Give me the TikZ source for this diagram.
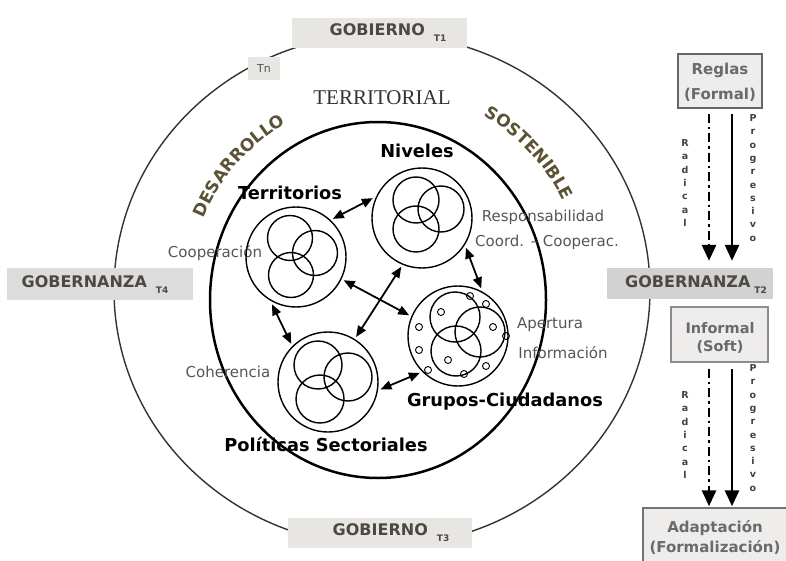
\documentclass[tikz,border=0pt]{standalone}
\usepackage{fontspec}
\setmainfont{DejaVu Sans}
\newfontfamily\serifT{Liberation Serif}
\usetikzlibrary{arrows.meta,decorations.text}
\definecolor{gobA}{HTML}{E8E6E3}
\definecolor{gobB}{HTML}{DCDCDC}
\definecolor{gobC}{HTML}{D2D2D2}
\definecolor{gtxt}{HTML}{4D4842}
\definecolor{lgray}{HTML}{555555}
\definecolor{rgray}{HTML}{6A6A6A}
\definecolor{olivebr}{HTML}{5B5236}
\definecolor{tgray}{HTML}{333333}
\newcommand{\arcfontA}{\fontsize{17}{20}\selectfont\bfseries\color{olivebr}}
\begin{document}
\begin{tikzpicture}[x=1pt,y=-1pt,
  gbox/.style={fill=#1, draw=none, inner sep=0pt},
  gtext/.style={font=\fontsize{16}{19}\selectfont\bfseries, text=gtxt, inner sep=0pt},
  lab/.style={font=\fontsize{15}{18}\selectfont, text=lgray, inner sep=0pt},
  blab/.style={font=\fontsize{17.8}{20}\selectfont\bfseries, text=black, inner sep=0pt},
  subc/.style={circle, draw, line width=1.4pt, minimum size=100pt, inner sep=0pt, outer sep=3pt},
  venn/.style={line width=1.4pt},
  dot/.style={line width=0.9pt},
  dbl/.style={line width=1.8pt, {Triangle[length=11pt,width=9pt]}-{Triangle[length=11pt,width=9pt]}},
  rbox/.style={draw=#1, line width=1.4pt, fill=gobA!70, inner sep=0pt},
  rtext/.style={font=\fontsize{15}{25}\selectfont\bfseries, text=rgray, align=center, inner sep=0pt},
  vtext/.style={font=\fontsize{9.5}{13.3}\selectfont\bfseries, text=black!75, align=center, inner sep=0pt},
  solarrow/.style={line width=2.8pt, -{Triangle[length=16pt,width=14pt]}},
  dasharrow/.style={line width=2.8pt, dash pattern=on 9pt off 4pt on 2.5pt off 4pt, -{Triangle[length=16pt,width=14pt]}}
]
\useasboundingbox (0,0) rectangle (786,561);
\clip (0,0) rectangle (786,561);

% outer ellipse
\draw[line width=1.4pt, black!80] (382,290) ellipse [x radius=268, y radius=256];

% gray label boxes on the ellipse
\node[gbox=gobA, minimum width=175pt, minimum height=30pt] (g1box) at (379.5,33) {};
\node[gtext] (g1) at (388,33) {GOBIERNO\hspace{9pt}\raisebox{-6pt}{\fontsize{9}{9}\selectfont T1}};
\node[gbox=gobA, minimum width=184pt, minimum height=30pt] (g3box) at (380,533) {};
\node[gtext] (g3) at (391,533) {GOBIERNO\hspace{9pt}\raisebox{-6pt}{\fontsize{9}{9}\selectfont T3}};
\node[gbox=gobB, minimum width=186pt, minimum height=32pt] (g4box) at (100,284) {};
\node[gtext] (g4) at (95,285) {GOBERNANZA\hspace{9pt}\raisebox{-6pt}{\fontsize{9}{9}\selectfont T4}};
\node[gbox=gobC, minimum width=166pt, minimum height=31pt] (g2box) at (690,283.5) {};
\node[gtext] (g2) at (696,285) {GOBERNANZA\hspace{4pt}\raisebox{-6pt}{\fontsize{9}{9}\selectfont T2}};
\node[gbox=gobA, minimum width=32pt, minimum height=23pt, font=\fontsize{11}{12}\selectfont, text=lgray] (tn) at (264,68.5) {Tn};

% titles
\node[font=\serifT\fontsize{21}{23}\selectfont, text=tgray, inner sep=0pt] (territ) at (382,98) {TERRITORIAL};
\path[decorate, decoration={text along path, text align=center, text={|\arcfontA|DESARROLLO}}]
  ([shift={(382,290)}]-174:192) arc [start angle=-174, end angle=-104, radius=192];
\path[decorate, decoration={text along path, text align=center, text={|\arcfontA|SOSTENIBLE}}]
  ([shift={(382,290)}]-79:202) arc [start angle=-79, end angle=-7, radius=202];

% inner ellipse
\draw[line width=2.5pt] (378,300) ellipse [x radius=168, y radius=178];

% gray labels
\node[lab] (coop) at (215,253) {Cooperación};
\node[lab] (coh) at (228,372) {Coherencia};
\node[lab] (resp) at (543,217) {Responsabilidad};
\node[lab] (coord) at (547,242) {Coord. – Cooperac.};
\node[lab] (aper) at (550,325) {Apertura};
\node[lab] (info) at (563,353) {Información};

% group circles
\node[subc] (terr) at (296,257) {};
\node[subc] (niv) at (422,218) {};
\node[subc] (pol) at (328,382) {};
\node[subc] (gru) at (458,336) {};

\foreach \dx/\dy in {-6/-19, 19/-4, -5/18}
  \draw[venn] ([shift={(\dx,\dy)}]terr.center) circle [radius=22.5];
\foreach \dx/\dy in {-6/-18, 19/-9, -6/11}
  \draw[venn] ([shift={(\dx,\dy)}]niv.center) circle [radius=23];
\foreach \dx/\dy in {-10/-17, 20/-5, -8/17}
  \draw[venn] ([shift={(\dx,\dy)}]pol.center) circle [radius=24];
\foreach \dx/\dy in {-3/-19, 22/-4, -2/15}
  \draw[venn] ([shift={(\dx,\dy)}]gru.center) circle [radius=25];
\foreach \px/\py in {470/296, 486/304, 441/312, 419/327, 493/327, 506/336, 419/350, 448/360, 486/366, 428/370, 464/374}
  \draw[dot] (\px,\py) circle [radius=3.5];

% bold labels
\node[blab] (lterr) at (290,193) {Territorios};
\node[blab] (lniv) at (417,151) {Niveles};
\node[blab] (lpol) at (326,445) {Políticas Sectoriales};
\node[blab] (lgru) at (505,402) {Grupos-Ciudadanos};

% double arrows
\draw[dbl] (terr.46) -- (niv.158);
\draw[dbl] (terr.-26) -- (gru.157);
\draw[dbl] (niv.-113) -- (pol.58);
\draw[dbl] (terr.243) -- (pol.134);
\draw[dbl] (niv.-34) -- (gru.64);
\draw[dbl] (pol.-8) -- (gru.224);

% right column
\node[rbox=black!60, minimum width=84pt, minimum height=54pt] (reglas) at (720,81) {};
\node[rtext] (reglast) at (720,82) {Reglas\\(Formal)};
\node[rbox=black!45, minimum width=97pt, minimum height=55pt] (informal) at (719.5,334.5) {};
\node[rtext, font=\fontsize{14.5}{18}\selectfont\bfseries] (informalt) at (720,338) {Informal\\(Soft)};
\node[rbox=black!55, minimum width=150pt, minimum height=62pt] (adapt) at (718,539) {};
\node[rtext, font=\fontsize{15}{20}\selectfont\bfseries] (adaptt) at (715,537) {Adaptación\\(Formalización)};

\coordinate (dl) at (709,0);
\coordinate (sl) at (732,0);
\draw[dasharrow, shorten <=5pt, shorten >=7pt] (dl |- reglas.south) -- (dl |- g2box.north);
\draw[solarrow, shorten <=5pt, shorten >=7pt] (sl |- reglas.south) -- (sl |- g2box.north);
\draw[dasharrow, shorten <=6pt, shorten >=1pt] (dl |- informal.south) -- (dl |- adapt.north);
\draw[solarrow, shorten <=6pt, shorten >=1pt] (sl |- informal.south) -- (sl |- adapt.north);

\node[vtext] (rad1) at (685,183) {R\\a\\d\\i\\c\\a\\l};
\node[vtext] (pro1) at (753,178) {P\\r\\o\\g\\r\\e\\s\\i\\v\\o};
\node[vtext] (rad2) at (685,435) {R\\a\\d\\i\\c\\a\\l};
\node[vtext] (pro2) at (753,428) {P\\r\\o\\g\\r\\e\\s\\i\\v\\o};
\end{tikzpicture}
\end{document}
